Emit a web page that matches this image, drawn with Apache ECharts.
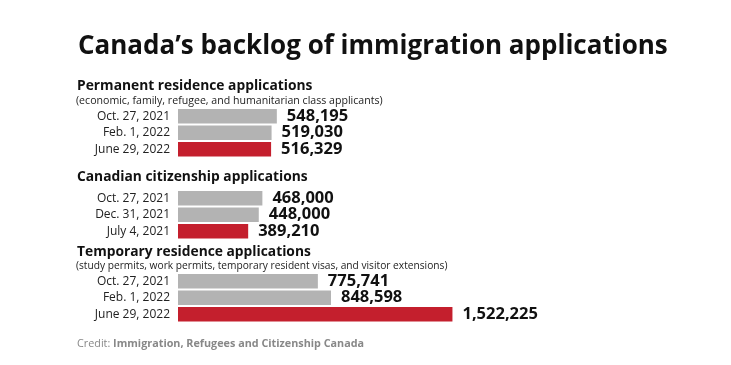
<!DOCTYPE html>
<html><head><meta charset="utf-8">
<script src="https://cdn.jsdelivr.net/npm/echarts@6/dist/echarts.min.js"></script>
<style>html,body{margin:0;padding:0;background:#fff}#c{width:731px;height:365px}</style>
</head><body><div id="c"></div>
<script>
const prDates = ['Oct. 27, 2021', 'Feb. 1, 2022', 'June 29, 2022'];
const prValues = [548195, 519030, 516329];
const ctDates = ['Oct. 27, 2021', 'Dec. 31, 2021', 'July 4, 2021'];
const ctValues = [468000, 448000, 389210];
const trDates = ['Oct. 27, 2021', 'Feb. 1, 2022', 'June 29, 2022'];
const trValues = [775741, 848598, 1522225];

const GRAY = '#b3b3b3', RED = '#c41f2d';
const FONT = '"Open Sans", sans-serif';
const groups = [[prDates, prValues, 108], [ctDates, ctValues, 190], [trDates, trValues, 273]];

const grids = [], xAxes = [], yAxes = [], series = [];
groups.forEach((g, i) => {
  grids.push({left: 178, width: 306.5, top: g[2], height: 49.5});
  xAxes.push({gridIndex: i, type: 'value', min: 0, max: 1700000, show: false});
  yAxes.push({gridIndex: i, type: 'category', data: g[0], inverse: true,
    axisLine: {show: false}, axisTick: {show: false},
    axisLabel: {interval: 0, fontFamily: FONT, fontSize: 12, color: '#222', margin: 8}});
  series.push({type: 'bar', xAxisIndex: i, yAxisIndex: i, barCategoryGap: '12%',
    data: g[1].map((v, j) => ({value: v, itemStyle: {color: j === 2 ? RED : GRAY}})),
    label: {show: true, position: 'right', distance: 10, fontFamily: FONT, fontSize: 16.5,
      fontWeight: 'bold', color: '#111', formatter: p => p.value.toLocaleString('en-US')},
    silent: true, animation: false});
});

function txt(x, y, text, font, fill) {
  return {type: 'text', x: x, y: y, style: {text: text, font: font, fill: fill, verticalAlign: 'middle'}};
}
const graphic = [
  txt(78, 47, 'Canada\u2019s backlog of immigration applications', 'bold 26px ' + FONT, '#111'),
  txt(77, 86, 'Permanent residence applications', 'bold 13.8px ' + FONT, '#111'),
  txt(76, 101, '(economic, family, refugee, and humanitarian class applicants)', '10.6px ' + FONT, '#222'),
  txt(77, 177, 'Canadian citizenship applications', 'bold 13.8px ' + FONT, '#111'),
  txt(77, 252, 'Temporary residence applications', 'bold 13.8px ' + FONT, '#111'),
  txt(76, 266.5, '(study permits, work permits, temporary resident visas, and visitor extensions)', '10.2px ' + FONT, '#222'),
  {type: 'text', x: 77, y: 344, style: {text: '{a|Credit: }{b|Immigration, Refugees and Citizenship Canada}',
    verticalAlign: 'middle',
    rich: {a: {fontFamily: FONT, fontSize: 10.8, fill: '#888'}, b: {fontFamily: FONT, fontSize: 10.8, fontWeight: 'bold', fill: '#888'}}}}
];

const chart = echarts.init(document.getElementById('c'));
chart.setOption({animation: false, grid: grids, xAxis: xAxes, yAxis: yAxes, series: series, graphic: graphic});
</script></body></html>
